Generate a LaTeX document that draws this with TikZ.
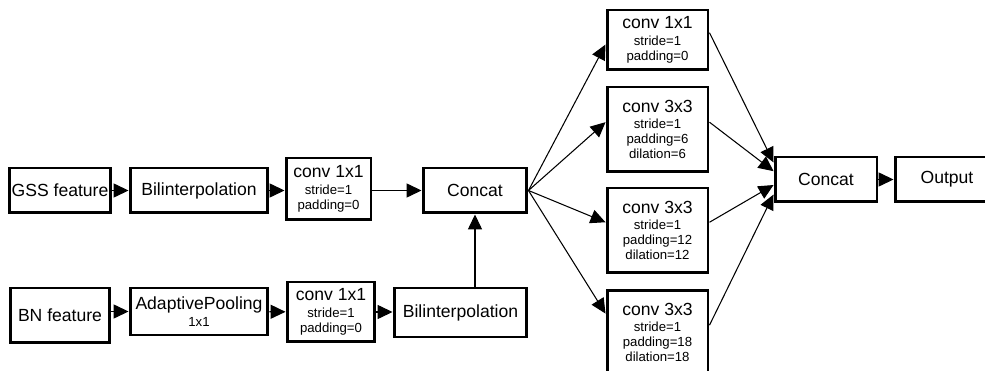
\documentclass[tikz,border=0pt]{standalone}
\usepackage{fontspec}
\setmainfont{Liberation Sans}
\usetikzlibrary{arrows.meta}

\begin{document}
\begin{tikzpicture}[x=0.02cm, y=-0.02cm, >={Triangle[length=8.5pt,width=8pt]}]
        \tikzstyle{every node} = [rectangle, draw, line width=1.7pt, align=center, inner sep=1pt, font=\fontsize{10}{12}\selectfont]
        \tikzstyle{conv} = [font=\fontsize{7.5}{8.5}\selectfont]
        \tikzstyle{link} = [line width=0.6pt, ->]
        \clip (0,0) rectangle (985,371);
        % left part
        \node[minimum width=2cm, minimum height=0.9cm] (gss) at (60,190.5) {GSS feature};
        \node[minimum width=2.76cm, minimum height=0.9cm] (bi1) at (199,190.5) {Bilinterpolation};
        \node[conv, minimum width=1.7cm, minimum height=1.24cm] (cv1) at (328.5,189) {{\fontsize{10}{12}\selectfont conv 1x1}\\[1pt] stride=1\\ padding=0};
        \node[minimum width=2.08cm, minimum height=0.9cm] (cat1) at (475,190.5) {Concat};
        \node[minimum width=2cm, minimum height=1.1cm] (bn) at (60,315.5) {BN feature};
        \node[conv, minimum width=2.76cm, minimum height=0.94cm] (pool) at (199,311.5) {{\fontsize{10}{12}\selectfont AdaptivePooling}\\[1pt] 1x1};
        \node[conv, minimum width=1.76cm, minimum height=1.2cm] (cv2) at (331,312) {{\fontsize{10}{12}\selectfont conv 1x1}\\[1pt] stride=1\\ padding=0};
        \node[minimum width=2.66cm, minimum height=0.98cm] (bi2) at (460.5,312.5) {Bilinterpolation};
        % branches
        \node[conv, minimum width=2.02cm, minimum height=1.2cm] (c1) at (657.5,40) {{\fontsize{10}{12}\selectfont conv 1x1}\\[1pt] stride=1\\ padding=0};
        \node[conv, minimum width=2.02cm, minimum height=1.7cm] (c2) at (657.5,129.5) {{\fontsize{10}{12}\selectfont conv 3x3}\\[1pt] stride=1\\ padding=6\\ dilation=6};
        \node[conv, minimum width=2.02cm, minimum height=1.7cm] (c3) at (657.5,230.5) {{\fontsize{10}{12}\selectfont conv 3x3}\\[1pt] stride=1\\ padding=12\\ dilation=12};
        \node[conv, minimum width=2.02cm, minimum height=1.7cm] (c4) at (657.5,332.5) {{\fontsize{10}{12}\selectfont conv 3x3}\\[1pt] stride=1\\ padding=18\\ dilation=18};
        \node[minimum width=2.04cm, minimum height=0.9cm] (cat2) at (826,179.5) {Concat};
        \node[minimum width=2.08cm, minimum height=0.9cm] (out) at (947,179.5) {Output};
        % connections
        \draw[link] (gss) -- (bi1);
        \draw[link] (bi1) -- (cv1.west |- bi1);
        \draw[link] (cv1.east |- cat1) -- (cat1);
        \draw[link] (pool.west -| bn.east) -- (pool.west);
        \draw[link] (pool) -- (cv2);
        \draw[link] (cv2) -- (bi2.west |- cv2);
        \draw[link] (cat1 |- bi2.north) -- (cat1.south);
        \draw[link] (cat1.east) -- (c1.185);
        \draw[link] (cat1.east) -- (c2.172);
        \draw[link] (cat1.east) -- (c3.171);
        \draw[link] (cat1.east) -- (c4.160);
        \draw[link] (c1.8) -- (cat2.162);
        \draw[link] (c2.8) -- (cat2.171);
        \draw[link] (c3.9) -- (cat2.186);
        \draw[link] (c4.8) -- (cat2.196);
        \draw[link] (cat2) -- (out);
\end{tikzpicture}
\end{document}
